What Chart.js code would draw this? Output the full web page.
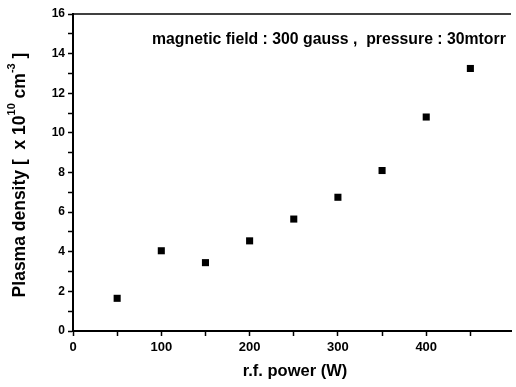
<!DOCTYPE html>
<html>
<head>
<meta charset="utf-8">
<script src="https://cdn.jsdelivr.net/npm/chart.js@4"></script>
<style>
  html, body { margin: 0; padding: 0; background: #fff; }
  #wrap { width: 516px; height: 387px; }
</style>
</head>
<body>
<div id="wrap"><canvas id="chart1" width="516" height="387"></canvas></div>
<script>
const power = [50, 100, 150, 200, 250, 300, 350, 400, 450]
const density = [1.65, 4.05, 3.45, 4.55, 5.65, 6.75, 8.1, 10.8, 13.25]
const yTicks = [0, 2, 4, 6, 8, 10, 12, 14, 16]
const xTicks = [0, 100, 200, 300, 400]

const FONT = '"Liberation Sans Narrow", "Arial Narrow", "Liberation Sans", Arial, sans-serif'

// titles + note + top frame line, drawn by hand so the superscripts fit
const extras = {
    id: 'extras',
    afterDraw(chart) {
        const ctx = chart.ctx
        const area = chart.chartArea
        ctx.save()

        ctx.strokeStyle = '#000'
        ctx.lineWidth = 1.5
        ctx.beginPath()
        ctx.moveTo(area.left, area.top)
        ctx.lineTo(area.right, area.top)
        ctx.stroke()

        ctx.fillStyle = '#000'
        ctx.textBaseline = 'middle'

        // note at top
        ctx.font = 'bold 15.8px ' + FONT
        ctx.textAlign = 'left'
        ctx.fillText('magnetic field : 300 gauss ,  pressure : 30mtorr', 152, 40)

        // x title
        ctx.textAlign = 'center'
        ctx.font = 'bold 16.5px ' + FONT
        ctx.fillText('r.f. power (W)', 295, 371)

        // y title, rotated, with superscripts
        const parts = [
            ['Plasma density [  x 10', 0],
            ['10', 1],
            [' cm', 0],
            ['-3', 1],
            [' ]', 0]
        ]
        const big = 'bold 17.5px ' + FONT
        const small = 'bold 11px ' + FONT
        let total = 0
        parts.forEach(p => {
            ctx.font = p[1] ? small : big
            total += ctx.measureText(p[0]).width
        })
        ctx.translate(20, 175)
        ctx.rotate(-Math.PI / 2)
        ctx.textAlign = 'left'
        let x = -total / 2
        parts.forEach(p => {
            ctx.font = p[1] ? small : big
            ctx.fillText(p[0], x, p[1] ? -8 : 0)
            x += ctx.measureText(p[0]).width
        })
        ctx.restore()
    }
}

const data = {
    datasets: [{
        data: power.map((p, i) => ({ x: p, y: density[i] })),
        showLine: false,
        pointStyle: 'rect',
        pointRadius: 5,
        pointHoverRadius: 5,
        backgroundColor: '#000',
        borderColor: '#000',
        borderWidth: 0
    }]
}

const options = {
    responsive: false,
    animation: false,
    layout: { padding: { top: 14, right: 0, left: 0, bottom: 0 } },
    plugins: {
        legend: { display: false },
        tooltip: { enabled: false }
    },
    scales: {
        x: {
            type: 'linear',
            min: 0,
            max: 496,
            afterBuildTicks: s => { s.ticks = s.ticks.filter(t => t.value % 50 === 0) },
            afterFit: s => { s.height = 56 },
            ticks: {
                stepSize: 50,
                autoSkip: false,
                maxRotation: 0,
                color: '#000',
                padding: 4,
                font: { family: FONT, size: 13, weight: 'bold' },
                callback: v => xTicks.includes(v) ? v : ''
            },
            grid: { drawOnChartArea: false, tickLength: 5, tickColor: '#000', tickWidth: 1.5 },
            border: { color: '#000', width: 2 }
        },
        y: {
            min: 0,
            max: 16,
            afterFit: s => { s.width = 73 },
            ticks: {
                stepSize: 1,
                autoSkip: false,
                color: '#000',
                padding: 3,
                font: { family: FONT, size: 12, weight: 'bold' },
                callback: v => yTicks.includes(v) ? v : ''
            },
            grid: { drawOnChartArea: false, tickLength: 5, tickColor: '#000', tickWidth: 1.5 },
            border: { color: '#000', width: 2 }
        }
    }
}

new Chart('chart1', { type: 'scatter', data, options, plugins: [extras] })
</script>
</body>
</html>
